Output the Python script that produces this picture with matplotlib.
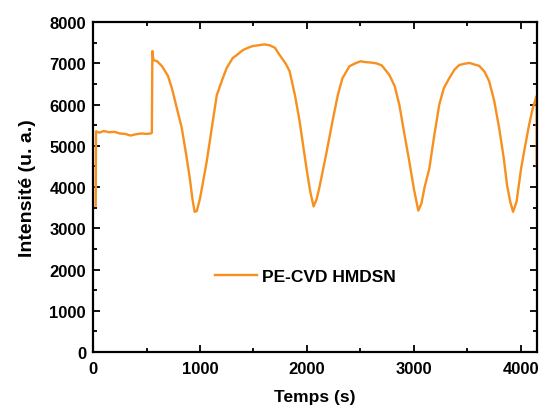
import matplotlib
matplotlib.use("Agg")
import matplotlib.pyplot as plt
from matplotlib.ticker import MultipleLocator

# temps (s) et intensité (u. a.)
temps = [25, 28, 60, 100, 150, 200, 250, 300, 350, 400, 450, 500, 540, 550,
         555, 565, 600, 645, 700, 737, 780, 830, 870, 905, 930, 950, 970,
         1000, 1063, 1120, 1157, 1213, 1250, 1306, 1343, 1400, 1450, 1493,
         1550, 1600, 1650, 1700, 1745, 1800, 1838, 1890, 1931, 1996, 2030,
         2062, 2090, 2117, 2180, 2239, 2290, 2332, 2397, 2450, 2500, 2550,
         2600, 2650, 2700, 2770, 2820, 2864, 2910, 2957, 3000, 3041, 3070,
         3100, 3144, 3190, 3237, 3280, 3330, 3380, 3424, 3470, 3520, 3570,
         3610, 3660, 3703, 3750, 3797, 3840, 3871, 3900, 3927, 3960, 4002,
         4040, 4076, 4110, 4145, 4148, 4148]
intensite = [3550, 5350, 5320, 5360, 5330, 5340, 5300, 5290, 5250, 5280,
             5300, 5290, 5300, 5320, 7300, 7080, 7050, 6930, 6700, 6400,
             5950, 5430, 4800, 4210, 3700, 3400, 3420, 3720, 4620, 5600,
             6230, 6640, 6890, 7130, 7200, 7320, 7380, 7420, 7440, 7460,
             7440, 7380, 7200, 7000, 6810, 6200, 5600, 4450, 3900, 3530,
             3700, 4000, 4800, 5600, 6250, 6640, 6930, 7000, 7050, 7030,
             7020, 7000, 6950, 6720, 6450, 5990, 5300, 4620, 3950, 3430,
             3600, 4000, 4450, 5250, 6000, 6400, 6640, 6850, 6960, 6990,
             7010, 6970, 6940, 6800, 6570, 6100, 5430, 4700, 4040, 3650,
             3400, 3650, 4450, 5000, 5500, 5900, 6200, 6200, 4500]

plt.rcParams['font.family'] = ['Liberation Sans', 'DejaVu Sans']
plt.rcParams['font.weight'] = 'bold'

fig = plt.figure(figsize=(5.44, 4.06), dpi=100)
ax = fig.add_axes([0.171, 0.1305, 0.816, 0.8125])

ax.plot(temps, intensite, color='#F7901E', lw=1.7, label='PE-CVD HMDSN')

ax.set_xlim(0, 4150)
ax.set_ylim(0, 8000)
ax.xaxis.set_major_locator(MultipleLocator(1000))
ax.xaxis.set_minor_locator(MultipleLocator(500))
ax.yaxis.set_major_locator(MultipleLocator(1000))
ax.yaxis.set_minor_locator(MultipleLocator(500))
ax.tick_params(which='both', direction='in', top=True, right=True,
               width=1.3, labelsize=12)
ax.tick_params(which='major', length=5)
ax.tick_params(which='minor', length=3)
ax.tick_params(axis='x', pad=6.5)
ax.tick_params(axis='y', pad=5)
for s in ax.spines.values():
    s.set_linewidth(1.6)

ax.set_xlabel('Temps (s)', fontsize=12.5, fontweight='bold', labelpad=9)
ax.set_ylabel('Intensité (u. a.)', fontsize=14, fontweight='bold', labelpad=10)

ax.legend(loc='center left', bbox_to_anchor=(0.24, 0.228), frameon=False,
          handlelength=2.4, handletextpad=0.3,
          prop={'weight': 'bold', 'size': 12.5})

fig.savefig('out.png', dpi=100)
